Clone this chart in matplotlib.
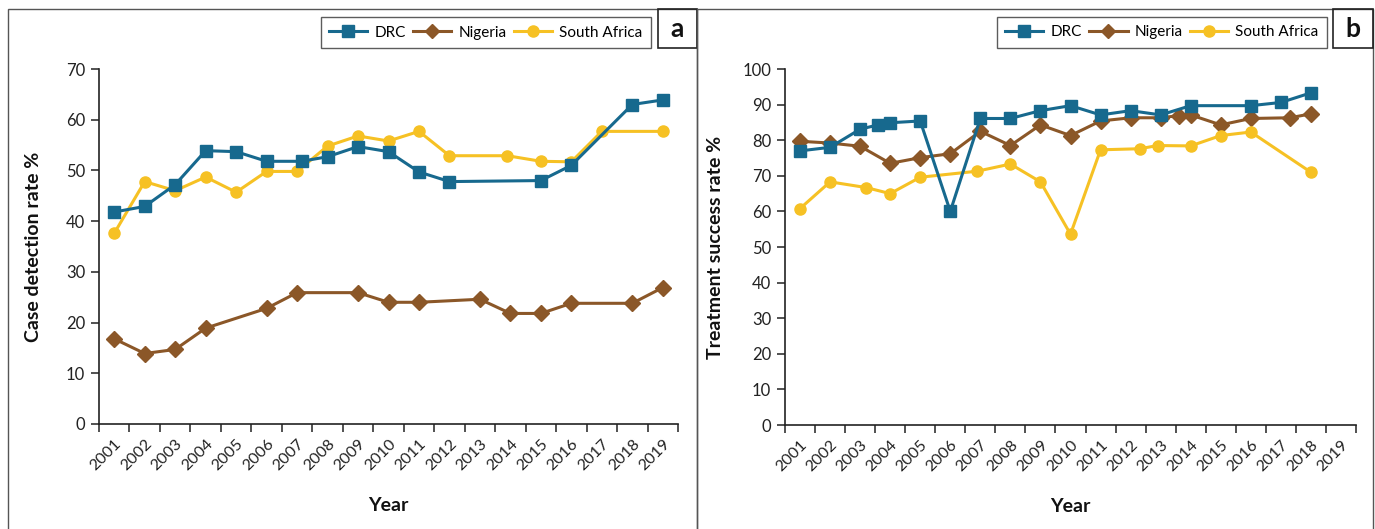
import matplotlib.pyplot as plt
from matplotlib.lines import Line2D
from matplotlib.patches import Rectangle
from matplotlib.ticker import FixedLocator, NullFormatter
import numpy as np

plt.rcParams['font.family'] = ['Lato', 'DejaVu Sans']

YEARS = list(range(2001, 2020))

# (a) case detection rate %
drc_cdr_x = [2001, 2002, 2003, 2004, 2005, 2006, 2007.15, 2008, 2009, 2010, 2011, 2012, 2015, 2016, 2018, 2019]
drc_cdr_y = [41.8, 42.9, 47.2, 53.9, 53.7, 51.8, 51.8, 52.7, 54.7, 53.7, 49.7, 47.8, 48.0, 51.0, 63.0, 63.9]
nga_cdr_x = [2001, 2002, 2003, 2004, 2006, 2007, 2009, 2010, 2011, 2013, 2014, 2015, 2016, 2018, 2019]
nga_cdr_y = [16.8, 13.9, 14.7, 18.9, 22.8, 25.9, 25.9, 24.0, 24.0, 24.6, 21.8, 21.8, 23.8, 23.8, 26.9]
rsa_cdr_x = [2001, 2002, 2003, 2004, 2005, 2006, 2007, 2008, 2009, 2010, 2011, 2012, 2013.9, 2015, 2016, 2017, 2019]
rsa_cdr_y = [37.6, 47.8, 46.0, 48.7, 45.7, 49.8, 49.8, 54.8, 56.8, 55.8, 57.7, 52.9, 52.9, 51.8, 51.7, 57.7, 57.7]

# (b) treatment success rate %
drc_tsr_x = [2001, 2002, 2003, 2003.6, 2004, 2005, 2006, 2007, 2008, 2009, 2010, 2011, 2012, 2013, 2014, 2016, 2017, 2018]
drc_tsr_y = [77.0, 78.0, 83.1, 84.3, 84.9, 85.4, 60.0, 86.1, 86.1, 88.3, 89.7, 87.1, 88.3, 87.1, 89.7, 89.7, 90.6, 93.3]
nga_tsr_x = [2001, 2002, 2003, 2004, 2005, 2006, 2007, 2008, 2009, 2010, 2011, 2012, 2013, 2013.6, 2014, 2015, 2016, 2017.3, 2018]
nga_tsr_y = [79.7, 79.2, 78.3, 73.5, 75.1, 76.2, 82.5, 78.5, 84.3, 81.3, 85.4, 86.3, 86.3, 86.9, 87.1, 84.3, 86.1, 86.3, 87.4]
rsa_tsr_x = [2001, 2002, 2003.2, 2004, 2005, 2006.9, 2008, 2009, 2010, 2011, 2012.3, 2012.9, 2014, 2015, 2016, 2018]
rsa_tsr_y = [60.8, 68.3, 66.7, 65.0, 69.6, 71.3, 73.3, 68.3, 53.6, 77.3, 77.6, 78.5, 78.4, 81.3, 82.3, 71.0]

BLUE = '#17698e'
BROWN = '#8b5728'
YELLOW = '#f6c124'

W, H = 1375, 529
fig = plt.figure(figsize=(W / 100, H / 100), dpi=100)


def px_box(x0, y0, x1, y1):
    return [x0 / W, 1 - y1 / H, (x1 - x0) / W, (y1 - y0) / H]


def draw_panel(rect, series, ymax, ylabel, ylabel_x, letter, frame, legend_anchor):
    ax = fig.add_axes(rect)
    for x, y, color, marker, ms, z in series:
        ax.plot(x, y, color=color, lw=2.2, marker=marker, ms=ms,
                mec=color, mfc=color, zorder=z, clip_on=False)

    ax.set_xlim(2000.5, 2019.5)
    ax.set_ylim(0, ymax)
    ax.set_yticks(np.arange(0, ymax + 1, 10))
    ax.xaxis.set_major_locator(FixedLocator(np.arange(2000.5, 2020, 1)))
    ax.xaxis.set_major_formatter(NullFormatter())
    ax.xaxis.set_minor_locator(FixedLocator(YEARS))
    ax.set_xticklabels([str(y) for y in YEARS], minor=True, rotation=45,
                       ha='right', va='top', rotation_mode='anchor')
    ax.tick_params(axis='x', which='major', direction='out', length=6, width=1.1, color='#222222')
    ax.tick_params(axis='x', which='minor', length=0, pad=9, labelsize=11.5, labelcolor='#222222')
    ax.tick_params(axis='y', direction='out', length=6, width=1.1, pad=4,
                   labelsize=12, labelcolor='#222222', color='#222222')
    for side in ('top', 'right'):
        ax.spines[side].set_visible(False)
    for side in ('left', 'bottom'):
        ax.spines[side].set_linewidth(1.2)
        ax.spines[side].set_color('#222222')

    ax.set_ylabel(ylabel, fontsize=14, fontweight='bold', color='#111111')
    ax.yaxis.set_label_coords(ylabel_x, 0.5)
    ax.set_xlabel('Year', fontsize=14, fontweight='bold', color='#111111')
    ax.xaxis.set_label_coords(0.5, -0.205)

    handles = [
        Line2D([], [], color=BLUE, lw=2.2, marker='s', ms=8),
        Line2D([], [], color=BROWN, lw=2.2, marker='D', ms=7),
        Line2D([], [], color=YELLOW, lw=2.2, marker='o', ms=8),
    ]
    leg = ax.legend(handles, ['DRC', 'Nigeria', 'South Africa'], ncol=3,
                    loc='upper right', bbox_to_anchor=legend_anchor, frameon=True,
                    fancybox=False, edgecolor='#333333', fontsize=11,
                    handlelength=2.5, columnspacing=0.5, handletextpad=0.45,
                    borderpad=0.55, borderaxespad=0)
    leg.get_frame().set_linewidth(1.0)

    # panel frame and letter box
    fx0, fx1, lx0 = frame
    fig.add_artist(Rectangle((fx0 / W, -0.01), (fx1 - fx0) / W, 1 - 9 / H + 0.01,
                             transform=fig.transFigure, fill=False,
                             ec='#555555', lw=1.0))
    fig.add_artist(Rectangle((lx0 / W, 1 - 48 / H), (fx1 - lx0) / W, 39 / H,
                             transform=fig.transFigure, fill=False,
                             ec='#222222', lw=1.2))
    fig.text((lx0 + fx1) / 2 / W, 1 - 29 / H, letter, ha='center', va='center',
             fontsize=19, fontweight='bold', color='#111111')
    return ax


draw_panel(px_box(99, 69, 678, 424),
           [(nga_cdr_x, nga_cdr_y, BROWN, 'D', 8, 3),
            (rsa_cdr_x, rsa_cdr_y, YELLOW, 'o', 8, 4),
            (drc_cdr_x, drc_cdr_y, BLUE, 's', 8, 5)],
           70, 'Case detection rate %', -0.098, 'a', (8, 697, 658),
           (0.953, 1.146))

draw_panel(px_box(785, 69, 1356, 425),
           [(nga_tsr_x, nga_tsr_y, BROWN, 'D', 8, 3),
            (rsa_tsr_x, rsa_tsr_y, YELLOW, 'o', 8, 4),
            (drc_tsr_x, drc_tsr_y, BLUE, 's', 8, 5)],
           100, 'Treatment success rate %', -0.107, 'b', (697, 1373, 1333),
           (0.949, 1.146))

fig.savefig('out.png', dpi=100, facecolor='white')
